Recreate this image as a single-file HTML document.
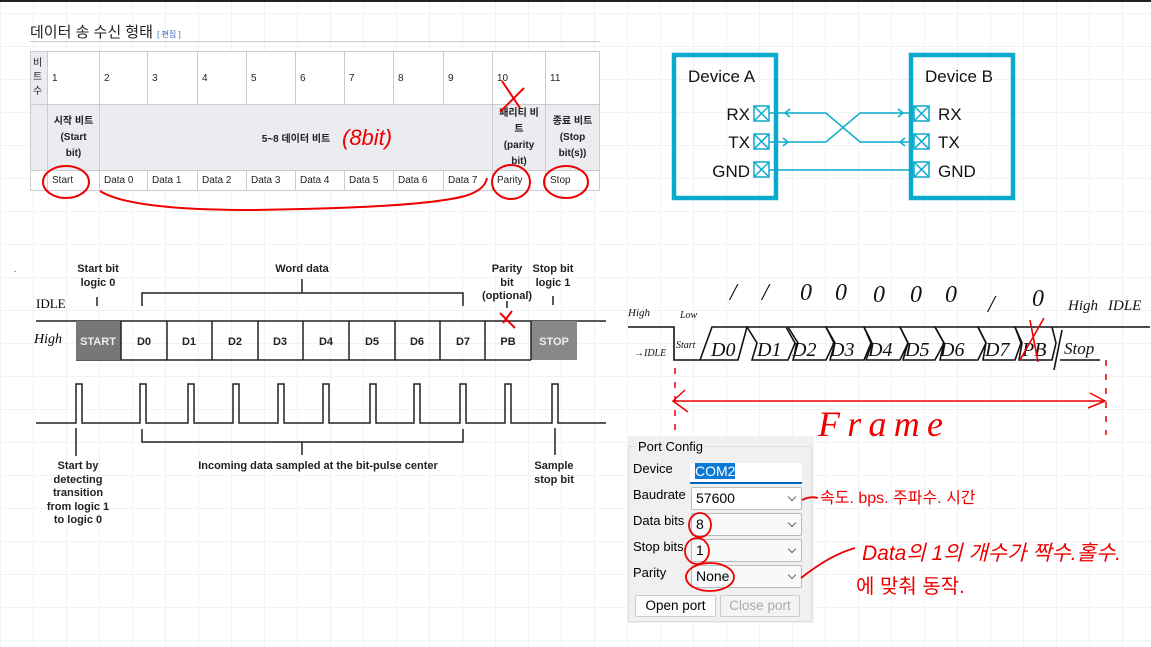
<!DOCTYPE html>
<html><head><meta charset="utf-8">
<style>
*{margin:0;padding:0;box-sizing:border-box}
body{width:1151px;height:647px;position:relative;overflow:hidden;background:#fff;
font-family:"Liberation Sans","Noto Sans CJK KR",sans-serif;
background-image:linear-gradient(to right,#f2f2f2 1px,transparent 1px),linear-gradient(to bottom,#f2f2f2 1px,transparent 1px);
background-size:33px 33px;background-position:0 13px}
.a{position:absolute;white-space:nowrap}
table{border-collapse:collapse;position:absolute;left:30px;top:51px;font-size:10px;color:#222;background:#fff}
td{border:1px solid #c8ccd1;padding:0 4px;vertical-align:middle}
.h{background:#eaecf0}
.pc{position:absolute;background:#f0f0f0;left:628px;top:436px;width:186px;height:187px;font-size:13px;color:#000}
.lb{position:absolute;left:5px;font-size:13px}
.cb{position:absolute;left:63px;width:111px;height:23px;border:1px solid #bbb;background:#f7f9fb;border-radius:2px;font-size:14px;padding:2px 4px}
.cb:after{content:"";position:absolute;right:6px;top:6px;width:5px;height:5px;border-right:1px solid #666;border-bottom:1px solid #666;transform:rotate(45deg)}
.btn{position:absolute;top:159px;height:22px;border:1px solid #ccc;border-radius:2px;background:#fbfbfb;font-size:13.5px;text-align:center;line-height:20px}
</style></head><body>
<div class="a" style="left:0;top:0;width:1151px;height:2px;background:#222"></div>
<div class="a" style="left:30px;top:21px;font-size:15px;color:#222">데이터 송 수신 형태 <span style="font-size:8px;color:#36c">[ 편집 ]</span></div>
<div class="a" style="left:30px;top:41px;width:570px;height:1px;background:#c8ccd1"></div>
<table>
<tr style="height:53px"><td class="h" style="width:17px;padding:0 2px;line-height:14px">비<br>트<br>수</td><td style="width:52px">1</td><td style="width:48px">2</td><td style="width:50px">3</td><td style="width:49px">4</td><td style="width:49px">5</td><td style="width:49px">6</td><td style="width:49px">7</td><td style="width:50px">8</td><td style="width:49px">9</td><td style="width:53px">10</td><td style="width:54px">11</td></tr>
<tr style="height:66px" class="h"><td class="h"></td><td class="h" style="text-align:center;font-weight:bold;line-height:16px">시작 비트<br>(Start<br>bit)</td><td class="h" colspan="8" style="text-align:center;font-weight:bold">5~8 데이터 비트</td><td class="h" style="text-align:center;font-weight:bold;line-height:16px">패리티 비<br>트<br>(parity<br>bit)</td><td class="h" style="text-align:center;font-weight:bold;line-height:16px">종료 비트<br>(Stop<br>bit(s))</td></tr>
<tr style="height:20px"><td></td><td>Start</td><td>Data 0</td><td>Data 1</td><td>Data 2</td><td>Data 3</td><td>Data 4</td><td>Data 5</td><td>Data 6</td><td>Data 7</td><td>Parity</td><td>Stop</td></tr>
</table>

<svg class="a" style="left:0;top:0" width="1151" height="647" viewBox="0 0 1151 647">
<g fill="none" stroke="#e00" stroke-width="2">
<ellipse cx="66" cy="182" rx="23" ry="16"/>
<ellipse cx="511" cy="182" rx="19" ry="17"/>
<ellipse cx="566" cy="182" rx="22" ry="16"/>
<path d="M100 191 Q130 210 250 210 Q420 208 465 196 Q485 190 487 178"/>
<path d="M502 81 L520 108 M524 88 L500 112"/>
</g>
<text x="342" y="145" fill="#e00" font-size="22" font-family="Liberation Sans,sans-serif" font-style="italic">(8bit)</text>

<g font-family="Liberation Sans,sans-serif" font-weight="bold" font-size="11" fill="#222" text-anchor="middle">
<text x="98" y="272">Start bit</text><text x="98" y="286">logic 0</text>
<text x="302" y="272">Word data</text>
<text x="507" y="272">Parity</text><text x="507" y="286">bit</text><text x="507" y="299">(optional)</text>
<text x="553" y="272">Stop bit</text><text x="553" y="286">logic 1</text>
<text x="78" y="469">Start by</text><text x="78" y="483">detecting</text><text x="78" y="496">transition</text><text x="78" y="510">from logic 1</text><text x="78" y="523">to logic 0</text>
<text x="318" y="469">Incoming data sampled at the bit-pulse center</text>
<text x="554" y="469">Sample</text><text x="554" y="483">stop bit</text>
</g>
<g stroke="#222" stroke-width="1.5" fill="none">
<path d="M97 297 V306 M142 306 V293 H463 V306 M302 293 V279 M507 301 V308 M553 296 V305"/>
<path d="M36 321 H606 M76 360 H531"/>
<path d="M76 428 V456 M142 429 V442 H463 V429 M302 442 V455 M555 428 V455"/>
<path d="M36 423 H76 V384 H82 V423 H140 V384 H146 V423 H188 V384 H194 V423 H233 V384 H239 V423 H278 V384 H284 V423 H323 V384 H329 V423 H370 V384 H376 V423 H414 V384 H420 V423 H460 V384 H466 V423 H505 V384 H511 V423 H552 V384 H558 V423 H606"/>
</g>
<rect x="76" y="321" width="45" height="39" fill="#777"/>
<rect x="531" y="321" width="46" height="39" fill="#888"/>
<g stroke="#222" stroke-width="1.5"><path d="M121 321V360M167 321V360M212 321V360M258 321V360M303 321V360M349 321V360M395 321V360M440 321V360M485 321V360M531 321V360"/></g>
<g font-family="Liberation Sans,sans-serif" font-weight="bold" font-size="11" fill="#222" text-anchor="middle">
<text x="98" y="345" fill="#eee">START</text><text x="144" y="345">D0</text><text x="189" y="345">D1</text><text x="235" y="345">D2</text><text x="280" y="345">D3</text><text x="326" y="345">D4</text><text x="372" y="345">D5</text><text x="417" y="345">D6</text><text x="463" y="345">D7</text><text x="508" y="345">PB</text><text x="554" y="345" fill="#eee">STOP</text>
</g>
<path d="M500 313 L515 328 M512 311 L503 323" stroke="#e00" stroke-width="2" fill="none"/>
<text x="36" y="308" font-size="13" font-family="Liberation Serif,serif" fill="#000">IDLE</text>
<text x="34" y="343" font-size="14" font-family="Liberation Serif,serif" font-style="italic" fill="#000">High</text>
<text x="14" y="272" font-size="8">.</text>

<g fill="none" stroke="#0aaacc">
<rect x="674" y="55" width="102" height="143" stroke-width="4.5"/>
<rect x="911" y="55" width="102" height="143" stroke-width="4.5"/>
<g stroke-width="1.5">
<rect x="754" y="106" width="15" height="15"/><path d="M754 106L769 121M769 106L754 121"/>
<rect x="754" y="134" width="15" height="15"/><path d="M754 134L769 149M769 134L754 149"/>
<rect x="754" y="162" width="15" height="15"/><path d="M754 162L769 177M769 162L754 177"/>
<rect x="914" y="106" width="15" height="15"/><path d="M914 106L929 121M929 106L914 121"/>
<rect x="914" y="134" width="15" height="15"/><path d="M914 134L929 149M929 134L914 149"/>
<rect x="914" y="162" width="15" height="15"/><path d="M914 162L929 177M929 162L914 177"/>
<path d="M769 113H826L860 142H914 M769 142H826L860 113H914 M769 170H914"/>
<path d="M790 109L785 113L790 117 M783 138L788 142L783 146 M898 109L903 113L898 117 M905 138L900 142L905 146"/>
</g></g>
<g font-family="Liberation Sans,sans-serif" font-size="17" fill="#111">
<text x="688" y="82">Device A</text><text x="925" y="82">Device B</text>
<text x="750" y="120" text-anchor="end">RX</text><text x="750" y="148" text-anchor="end">TX</text><text x="750" y="177" text-anchor="end">GND</text>
<text x="938" y="120">RX</text><text x="938" y="148">TX</text><text x="938" y="177">GND</text>
</g>

<g stroke="#111" stroke-width="1.6" fill="none">
<path d="M628 327H674V360H700 M674 360V327"/>
<path d="M700 360 L712 327H747L738 360Z"/>
<path d="M747 327L757 343L752 360H788L795 343L786 327Z"/>
<path d="M788 327L798 343L793 360H826L834 343L826 327Z"/>
<path d="M826 327L835 343L830 360H864L871 343L864 327Z"/>
<path d="M864 327L872 343L866 360H900L908 343L900 327Z"/>
<path d="M900 327L908 343L903 360H935L944 343L935 327Z"/>
<path d="M935 327L944 343L940 360H978L986 343L978 327Z"/>
<path d="M978 327L986 343L983 360H1015L1021 343L1015 327Z"/>
<path d="M1015 327L1022 343L1019 360H1052L1056 343L1052 327Z"/>
<path d="M1052 327H1150 M1062 330L1054 370 M1060 360H1100"/>
</g>
<g font-family="Liberation Serif,serif" font-style="italic" fill="#111">
<text x="711" y="356" font-size="20">D0</text><text x="757" y="356" font-size="20">D1</text><text x="792" y="356" font-size="20">D2</text>
<text x="830" y="356" font-size="20">D3</text><text x="868" y="356" font-size="20">D4</text><text x="905" y="356" font-size="20">D5</text>
<text x="940" y="356" font-size="20">D6</text><text x="985" y="356" font-size="20">D7</text><text x="1022" y="356" font-size="20">PB</text>
<text x="1064" y="354" font-size="17">Stop</text><text x="676" y="348" font-size="10">Start</text>
<text x="634" y="356" font-size="10">→IDLE</text><text x="628" y="316" font-size="11">High</text><text x="680" y="318" font-size="10">Low</text>
<text x="1068" y="310" font-size="15">High</text><text x="1108" y="310" font-size="15">IDLE</text>
</g>
<g font-family="Liberation Serif,serif" font-style="italic" font-size="24" fill="#111">
<text x="730" y="300">/</text><text x="762" y="300">/</text><text x="800" y="300">0</text><text x="835" y="300">0</text><text x="873" y="302">0</text><text x="910" y="302">0</text><text x="945" y="302">0</text><text x="988" y="312">/</text><text x="1032" y="306">0</text>
</g>
<path d="M1020 360 L1044 318 M1030 320 L1038 362" stroke="#e00" stroke-width="1.6"/>
<g stroke="#e00" stroke-width="1.5" fill="none">
<path d="M675 368V440 M1106 360V435" stroke-dasharray="6 8"/>
<path d="M673 401H1105 M685 390L673 401L688 412 M1090 393L1105 401L1088 408"/>
</g>
<text x="818" y="436" font-size="36" font-style="italic" fill="#e00" font-family="Liberation Serif,serif" textLength="125">Frame</text>
</svg>

<div class="pc">
<div class="a" style="left:0;top:10px;width:184px;height:176px;border:1px solid #ddd"></div>
<div class="a" style="left:8px;top:3px;background:#f0f0f0;padding:0 2px">Port Config</div>
<div class="lb" style="top:25px">Device</div>
<div class="a" style="left:62px;top:27px;width:112px;height:21px;background:#fff;border-bottom:2px solid #0067c0"><span style="background:#0a78d7;color:#fff;font-size:14px;margin-left:5px">COM2</span></div>
<div class="lb" style="top:51px">Baudrate</div><div class="cb" style="top:51px;background:#fff">57600</div>
<div class="lb" style="top:77px">Data bits</div><div class="cb" style="top:77px">8</div>
<div class="lb" style="top:103px">Stop bits</div><div class="cb" style="top:103px">1</div>
<div class="lb" style="top:129px">Parity</div><div class="cb" style="top:129px">None</div>
<div class="btn" style="left:7px;width:81px">Open port</div>
<div class="btn" style="left:92px;width:80px;color:#aaa;background:#f4f4f4">Close port</div>
</div>

<svg class="a" style="left:0;top:0" width="1151" height="647">
<g stroke="#e00" stroke-width="1.8" fill="none">
<ellipse cx="700" cy="525" rx="11" ry="12"/>
<ellipse cx="697" cy="551" rx="12" ry="13"/>
<ellipse cx="710" cy="577" rx="24" ry="14"/>
<path d="M802 500 Q810 496 818 498"/>
<path d="M801 578 Q830 555 855 548"/>
</g>
<text x="820" y="503" font-size="16" fill="#e00" font-family="Liberation Sans,Noto Sans CJK KR,sans-serif">속도. bps. 주파수. 시간</text>
<text x="862" y="560" font-size="21" fill="#e00" font-family="Liberation Sans,Noto Sans CJK KR,sans-serif" font-style="italic">Data의 1의 개수가 짝수.홀수.</text>
<text x="856" y="593" font-size="20" fill="#e00" font-family="Liberation Sans,Noto Sans CJK KR,sans-serif">에 맞춰 동작.</text>
</svg>
</body></html>
